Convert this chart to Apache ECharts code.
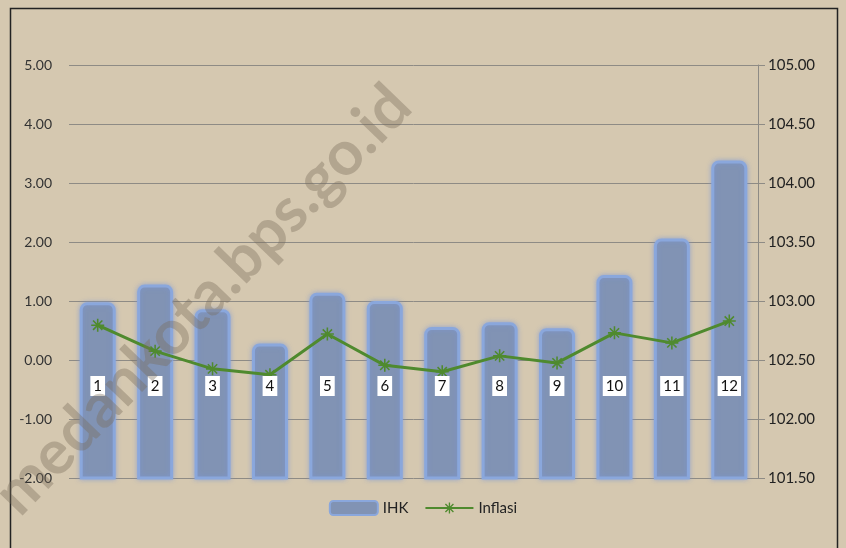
<!DOCTYPE html>
<html>
<head>
<meta charset="utf-8">
<script src="https://cdn.jsdelivr.net/npm/echarts@6/dist/echarts.min.js"></script>
<style>
  html, body { margin: 0; padding: 0; background: #d5c8b0; }
  #chart { width: 846px; height: 548px; }
</style>
</head>
<body>
<div id="chart"></div>
<script>
// bulan 1..12
const months = ['1', '2', '3', '4', '5', '6', '7', '8', '9', '10', '11', '12']
// IHK (sumbu kanan)
const ihk = [102.99, 103.14, 102.93, 102.64, 103.07, 103.0, 102.78, 102.82, 102.77, 103.22, 103.53, 104.19]
// Inflasi (sumbu kiri)
const inflasi = [0.59, 0.15, -0.15, -0.25, 0.44, -0.09, -0.2, 0.07, -0.05, 0.46, 0.29, 0.66]

const fontFam = 'Lato, "Open Sans", sans-serif'
const fmt2 = v => Number(v).toFixed(2)

// asterisk marker
const star = 'path://M-0.12,-1L0.12,-1L0.12,1L-0.12,1Z' +
    'M-1,-0.12L1,-0.12L1,0.12L-1,0.12Z' +
    'M-0.8,-0.63L-0.63,-0.8L0.8,0.63L0.63,0.8Z' +
    'M0.63,-0.8L0.8,-0.63L-0.63,0.8L-0.8,0.63Z'

const chart = echarts.init(document.getElementById('chart'))

chart.setOption({
    backgroundColor: '#d5c8b0',
    textStyle: { fontFamily: fontFam },
    graphic: [
        {
            type: 'rect',
            shape: { x: 10.5, y: 8.5, width: 827, height: 560 },
            style: { fill: 'none', stroke: '#222', lineWidth: 1.5 },
            z: 0
        },
        {
            type: 'text',
            x: 203, y: 300,
            rotation: Math.PI * 46 / 180,
            style: {
                text: 'medankota.bps.go.id',
                font: 'bold 62px ' + fontFam,
                fill: 'rgba(120,108,90,0.38)',
                align: 'center',
                verticalAlign: 'middle'
            },
            z: 100
        }
    ],
    grid: { left: 69, right: 88, top: 65, bottom: 70 },
    legend: {
        bottom: 27,
        left: 'center',
        itemGap: 16,
        itemWidth: 48,
        itemHeight: 14,
        textStyle: { fontSize: 15, color: '#222' },
        data: [
            { name: 'IHK', icon: 'roundRect' },
            { name: 'Inflasi' }
        ]
    },
    xAxis: {
        type: 'category',
        data: months,
        offset: -102,
        axisLine: { show: false },
        axisTick: { show: false },
        axisLabel: {
            margin: 0,
            color: '#111',
            fontSize: 15,
            backgroundColor: '#fff',
            padding: [3, 3, 2, 3]
        },
        z: 10
    },
    yAxis: [
        {
            type: 'value',
            min: -2, max: 5, interval: 1,
            axisLine: { show: false },
            axisTick: { show: false },
            axisLabel: { formatter: fmt2, fontSize: 14, color: '#333', margin: 17 },
            splitLine: { lineStyle: { color: '#8e8b85', width: 1 } }
        },
        {
            type: 'value',
            min: 101.5, max: 105, interval: 0.5,
            position: 'right',
            axisLine: { show: true, lineStyle: { color: '#8e8b85' } },
            axisTick: { show: true, length: 7, lineStyle: { color: '#8e8b85' } },
            axisLabel: { formatter: fmt2, fontSize: 15, color: '#222', margin: 10 },
            splitLine: { show: false }
        }
    ],
    series: [
        {
            name: 'IHK',
            type: 'bar',
            yAxisIndex: 1,
            data: ihk,
            barWidth: 36,
            itemStyle: {
                color: '#8193b4',
                borderColor: '#8aa7dc',
                borderWidth: 3,
                borderRadius: [6, 6, 0, 0],
                shadowColor: 'rgba(120,150,220,0.6)',
                shadowBlur: 5
            },
            z: 2
        },
        {
            name: 'Inflasi',
            type: 'line',
            yAxisIndex: 0,
            data: inflasi,
            symbol: star,
            symbolSize: 13,
            lineStyle: { color: '#4f8a2e', width: 3 },
            itemStyle: { color: '#4f8a2e' },
            z: 5
        }
    ]
})
</script>
</body>
</html>
